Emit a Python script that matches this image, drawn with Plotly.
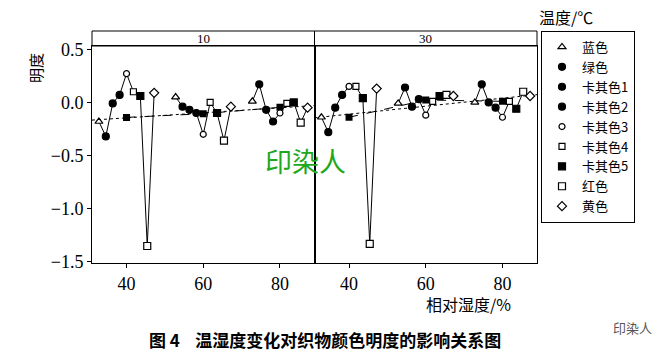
import numpy as np
import plotly.graph_objects as go

# ---------------- data ----------------
series_names = ["蓝色", "绿色", "卡其色1", "卡其色2", "卡其色3", "卡其色4", "卡其色5", "红色", "黄色"]
humidity = [40, 60, 80]          # nominal relative humidity levels (%)
temperatures = ["10", "30"]      # panel headers (°C)

# brightness change per series at humidity 40 / 60 / 80, temperature 10 °C
t10_blue = [-0.18, 0.05, 0.01]
t10_green = [-0.32, -0.04, 0.17]
t10_k1 = [-0.01, -0.07, -0.07]
t10_k2 = [0.07, -0.10, -0.18]
t10_k3 = [0.27, -0.30, -0.10]
t10_k4 = [0.10, 0.00, -0.01]
t10_k5 = [0.06, -0.10, 0.00]
t10_red = [-1.35, -0.36, -0.19]
t10_yellow = [0.09, -0.04, -0.05]

# temperature 30 °C
t30_blue = [-0.14, -0.01, 0.00]
t30_green = [-0.28, 0.14, 0.17]
t30_k1 = [-0.05, -0.04, 0.00]
t30_k2 = [0.07, 0.03, -0.05]
t30_k3 = [0.15, -0.12, -0.14]
t30_k4 = [0.15, 0.01, 0.01]
t30_k5 = [0.04, 0.06, -0.06]
t30_red = [-1.33, 0.07, 0.10]
t30_yellow = [0.13, 0.06, 0.06]

x_ticks = [40, 60, 80]
y_ticks = [-1.5, -1.0, -0.5, 0.0, 0.5]

panels = [
    [t10_blue, t10_green, t10_k1, t10_k2, t10_k3, t10_k4, t10_k5, t10_red, t10_yellow],
    [t30_blue, t30_green, t30_k1, t30_k2, t30_k3, t30_k4, t30_k5, t30_red, t30_yellow],
]

# ---------------- styles ----------------
symbols = ["triangle-up", "circle", "circle", "circle", "circle", "square", "square", "square", "diamond"]
fills = ["white", "black", "black", "black", "white", "white", "black", "white", "white"]
sizes = [7, 7, 7, 7, 6, 6, 7, 7, 7]
dodge = 1.8   # horizontal offset between series inside a humidity group

W, H = 663, 357
L, R, T, B = 92, 537, 31, 263
strip_bottom = 46
ydom_top = (B - strip_bottom) / (B - T)


def px(x):
    return (x - L) / (R - L)


def py(y):
    return (B - y) / (B - T)


fig = go.Figure()

for p, data in enumerate(panels):
    xa = "x" if p == 0 else "x2"
    ya = "y" if p == 0 else "y2"
    # connecting line within each humidity group
    for g, h in enumerate(humidity):
        xs = [h + (i - 4) * dodge for i in range(len(series_names))]
        ys = [data[i][g] for i in range(len(series_names))]
        fig.add_trace(go.Scatter(x=xs, y=ys, mode="lines", line=dict(color="black", width=1),
                                 xaxis=xa, yaxis=ya, showlegend=False, hoverinfo="skip"))
    # mean line (dashed) and trend (dotted)
    means = [float(np.mean([data[i][g] for i in range(len(series_names))])) for g in range(len(humidity))]
    allx = [h for g, h in enumerate(humidity) for i in range(len(series_names))]
    ally = [data[i][g] for g in range(len(humidity)) for i in range(len(series_names))]
    k, b = np.polyfit(allx, ally, 1)
    fx = [31, 89]
    fig.add_trace(go.Scatter(x=fx, y=[k * v + b for v in fx], mode="lines",
                             line=dict(color="black", width=1, dash="dot"),
                             xaxis=xa, yaxis=ya, showlegend=False, hoverinfo="skip"))
    fig.add_trace(go.Scatter(x=humidity, y=means, mode="lines+markers",
                             line=dict(color="black", width=1, dash="dash"),
                             marker=dict(symbol="square", size=7, color="black"),
                             xaxis=xa, yaxis=ya, showlegend=False, hoverinfo="skip"))
    # series markers
    for i, name in enumerate(series_names):
        xs = [h + (i - 4) * dodge for h in humidity]
        fig.add_trace(go.Scatter(
            x=xs, y=data[i], mode="markers", name=name, legendgroup=name,
            showlegend=(p == 0), xaxis=xa, yaxis=ya,
            marker=dict(symbol=symbols[i], size=sizes[i], color=fills[i],
                        line=dict(color="black", width=1.2)),
        ))

tickfont = dict(family="Liberation Serif, Times New Roman, serif", size=18, color="black")
axis_common = dict(range=[31, 89], tickvals=x_ticks, ticks="outside", ticklen=4, tickcolor="black",
                   showline=True, linecolor="black", linewidth=1, mirror=True,
                   showgrid=False, zeroline=False, tickfont=tickfont)

fig.update_layout(
    width=W, height=H,
    margin=dict(l=L, r=W - R, t=T, b=H - B, pad=0, autoexpand=False),
    paper_bgcolor="white", plot_bgcolor="white",
    font=dict(family="Noto Sans CJK SC", color="black"),
    xaxis=dict(domain=[0, 0.5], anchor="y", **axis_common),
    xaxis2=dict(domain=[0.5, 1], anchor="y2", **axis_common),
    yaxis=dict(domain=[0, ydom_top], range=[-1.51, 0.53], tickvals=y_ticks, tickformat=".1f",
               ticks="outside", ticklen=4, tickcolor="black", showline=True, linecolor="black",
               linewidth=1, mirror=True, showgrid=False, zeroline=False, tickfont=tickfont),
    yaxis2=dict(domain=[0, ydom_top], range=[-1.51, 0.53], anchor="x2", showticklabels=False,
                ticks="", showline=True, linecolor="black", linewidth=1, mirror=True,
                showgrid=False, zeroline=False),
    legend=dict(x=px(541), y=1, xanchor="left", yanchor="top",
                bordercolor="black", borderwidth=1, bgcolor="white",
                font=dict(family="Noto Sans CJK SC", size=13, color="black"),
                tracegroupgap=0, itemwidth=30),
    showlegend=True,
)

# strip headers
for j, lab in enumerate(temperatures):
    fig.add_shape(type="rect", xref="paper", yref="paper", x0=0.5 * j, x1=0.5 * (j + 1),
                  y0=ydom_top, y1=1, line=dict(color="black", width=1))
    fig.add_annotation(x=0.25 + 0.5 * j, y=(ydom_top + 1) / 2, xref="paper", yref="paper",
                       text=lab, showarrow=False, xanchor="center", yanchor="middle",
                       font=dict(family="Liberation Serif, serif", size=13, color="black"))

ann = [
    dict(x=px(35), y=py(68), text="明度", textangle=-90, font=dict(size=15)),
    dict(x=px(566), y=py(17), text="温度/℃", font=dict(size=16)),
    dict(x=px(468), y=py(304), text="相对湿度/%", font=dict(size=16)),
    dict(x=px(325), y=py(339), text="<b>图 4    温湿度变化对织物颜色明度的影响关系图</b>", font=dict(size=17)),
    dict(x=px(305), y=py(160), text="印染人", font=dict(size=27, color="#1ea81e")),
    dict(x=px(632), y=py(327), text="印染人", font=dict(size=13, color="#555555")),
]
for a in ann:
    fig.add_annotation(xref="paper", yref="paper", showarrow=False,
                       xanchor="center", yanchor="middle", **a)

fig.write_html("out.html", config={"displayModeBar": False},
               post_script="document.body.style.margin='0px';")
